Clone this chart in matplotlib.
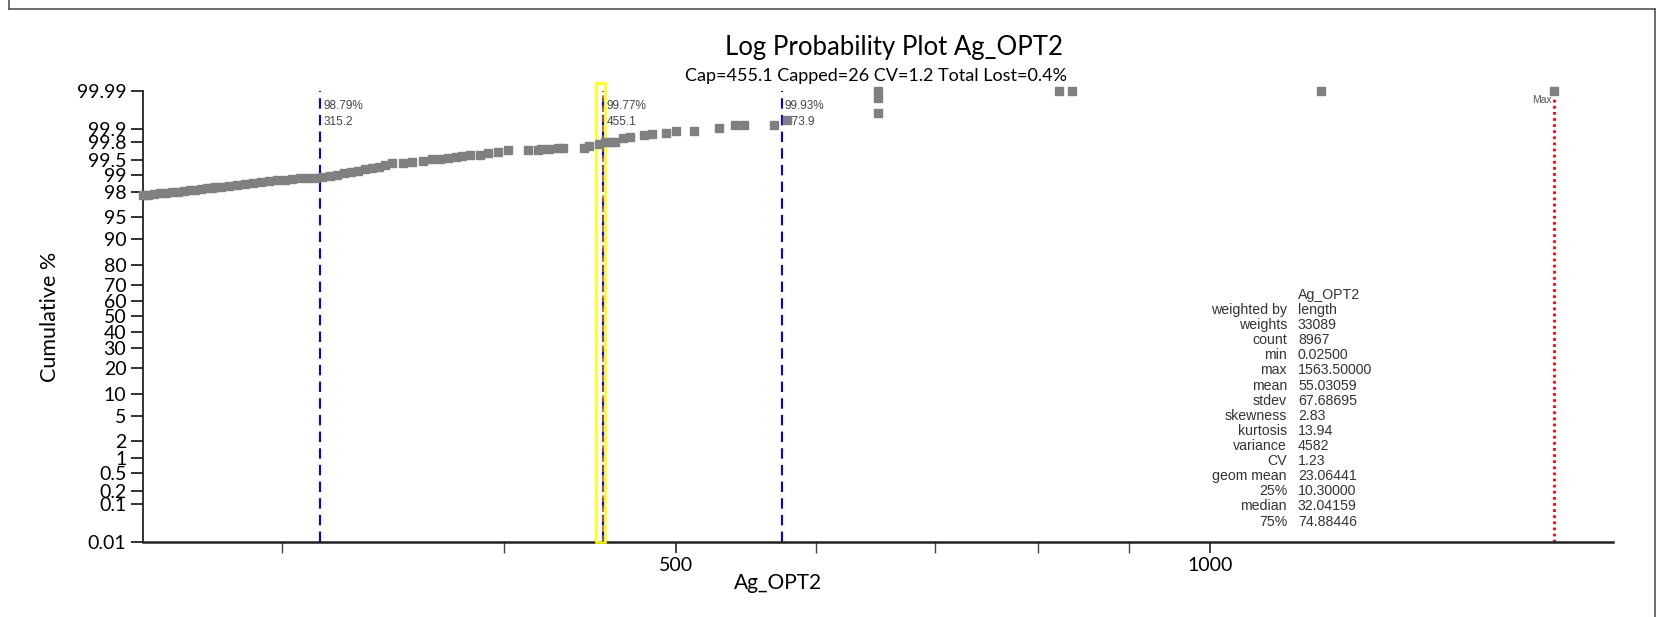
import statistics
import numpy as np
import matplotlib
matplotlib.use('Agg')
import matplotlib.pyplot as plt
from matplotlib.ticker import FixedLocator, FixedFormatter, NullFormatter, NullLocator
from matplotlib.lines import Line2D
from matplotlib.patches import Rectangle
import matplotlib.transforms as mtransforms

# sample values (Ag_OPT2) and cumulative %
ag_values = [250.5, 252, 254, 256, 258, 260, 262, 264, 266, 268, 270, 272, 274, 275,
             277, 280, 283, 286, 289, 292, 295, 298, 301, 304, 307, 310,
             313, 316, 319, 322, 325, 328, 331, 334, 337, 340, 343, 346,
             351, 355, 360, 364.5, 368, 372, 376, 379, 383, 388, 392, 397, 402,
             413, 418, 420, 424, 429, 432, 444, 447, 452.6, 456, 460, 462, 467, 471,
             480, 485, 494, 500, 512, 529, 540, 546, 568, 578,
             650, 650, 650, 822, 836, 1155, 1563.5]
cum_pct = [97.72, 97.77, 97.83, 97.88, 97.93, 97.98, 98.03, 98.08, 98.13, 98.18, 98.22, 98.27, 98.32, 98.36,
           98.39, 98.45, 98.50, 98.56, 98.61, 98.66, 98.71, 98.76, 98.80, 98.83, 98.86, 98.88,
           98.89, 98.93, 98.98, 99.04, 99.09, 99.14, 99.19, 99.24, 99.29, 99.33, 99.37, 99.42,
           99.44, 99.45, 99.49, 99.52, 99.54, 99.56, 99.58, 99.60, 99.62, 99.62, 99.65, 99.67, 99.70,
           99.70, 99.70, 99.715, 99.715, 99.73, 99.73, 99.73, 99.755, 99.78, 99.80, 99.80, 99.80, 99.84, 99.85,
           99.86, 99.87, 99.877, 99.886, 99.89, 99.906, 99.92, 99.92, 99.92, 99.94,
           99.961, 99.984, 99.99, 99.99, 99.99, 99.99, 99.99]

# reference lines: (value, percent label)
quant_lines = [(315.2, '98.79%'), (455.1, '99.77%'), (573.9, '99.93%')]
cap_value = 455.1
max_value = 1563.5

y_ticks = [0.01, 0.1, 0.2, 0.5, 1, 2, 5, 10, 20, 30, 40, 50, 60, 70, 80, 90,
           95, 98, 99, 99.5, 99.8, 99.9, 99.99]
y_tick_labels = ['0.01', '0.1', '0.2', '0.5', '1', '2', '5', '10', '20', '30', '40', '50',
                 '60', '70', '80', '90', '95', '98', '99', '99.5', '99.8', '99.9', '99.99']

stat_names = ['', 'weighted by', 'weights', 'count', 'min', 'max', 'mean', 'stdev',
              'skewness', 'kurtosis', 'variance', 'CV', 'geom mean', '25%', 'median', '75%']
stat_values = ['Ag_OPT2', 'length', '33089', '8967', '0.02500', '1563.50000', '55.03059',
               '67.68695', '2.83', '13.94', '4582', '1.23', '23.06441', '10.30000',
               '32.04159', '74.88446']

nd = statistics.NormalDist()
_ppf = np.vectorize(nd.inv_cdf, otypes=[float])
_cdf = np.vectorize(nd.cdf, otypes=[float])


def prob_fwd(p):
    p = np.clip(np.asarray(p, dtype=float) / 100.0, 1e-9, 1 - 1e-9)
    return _ppf(p)


def prob_inv(z):
    return _cdf(np.asarray(z, dtype=float)) * 100.0


W, H = 1659, 617
fig = plt.figure(figsize=(W / 100, H / 100), dpi=100)
ax = fig.add_axes([143 / W, 1 - 542 / H, (1613 - 143) / W, (542 - 91) / H])

ax.set_xscale('log')
ax.set_yscale('function', functions=(prob_fwd, prob_inv))
ax.set_xlim(250.4, 1688)
ax.set_ylim(0.01, 99.99)

tick_font = 'Lato'
ax.yaxis.set_major_locator(FixedLocator(y_ticks))
ax.yaxis.set_major_formatter(FixedFormatter(y_tick_labels))
ax.yaxis.set_minor_locator(NullLocator())
ax.xaxis.set_major_locator(FixedLocator([500, 1000]))
ax.xaxis.set_major_formatter(FixedFormatter(['500', '1000']))
ax.xaxis.set_minor_locator(FixedLocator([300, 400, 600, 700, 800, 900]))
ax.xaxis.set_minor_formatter(NullFormatter())

ax.tick_params(axis='y', direction='out', length=9, width=1.3, color='#222222',
               labelsize=14, pad=3)
ax.tick_params(axis='x', which='major', direction='out', length=8, width=1.2,
               color='#222222', labelsize=14, pad=3)
ax.tick_params(axis='x', which='minor', direction='out', length=8, width=1.0,
               color='#444444')
for lab in ax.get_xticklabels() + ax.get_yticklabels():
    lab.set_family(tick_font)
for t, v in zip(ax.yaxis.get_major_ticks(), y_ticks):
    if v in (70, 0.2):
        t.tick1line.set_color('#aaaaaa')

for side in ('top', 'right'):
    ax.spines[side].set_visible(False)
ax.spines['left'].set_linewidth(1.3)
ax.spines['bottom'].set_linewidth(1.8)
ax.spines['left'].set_color('#222222')
ax.spines['bottom'].set_color('#222222')

# quantile lines
for val, pct in quant_lines:
    ax.axvline(val, color='#0000ff', lw=1.5, ls=(0, (5, 3)), zorder=2)
    ax.text(val * 1.004, 99.982, pct + '\n' + ('%g' % val), fontsize=8.5, color='#444444',
            family='Liberation Sans', va='top', ha='left', linespacing=1.4, zorder=4)

# cap highlight
blend = mtransforms.blended_transform_factory(ax.transData, ax.transAxes)
ax.add_patch(Rectangle((450.6, 0), 455.9 - 450.6, 1.018, transform=blend, fill=False,
                       edgecolor='#ffff00', lw=1.8, clip_on=False, zorder=3))
ax.axvline(cap_value, color='#b5564f', lw=1.2, ls=(0, (4, 2)), zorder=3)

# max line
ax.plot([max_value, max_value], [0.01, 99.985], color='#ff0000', lw=2,
        ls=(0, (1, 1.2)), zorder=2)
ax.text(max_value * 0.997, 99.987, 'Max', fontsize=7.5, color='#555555',
        family='Liberation Sans', ha='right', va='top')

ax.plot(ag_values, cum_pct, ls='none', marker='s', markersize=5.5, color='#808080',
        mec='#808080', clip_on=False, zorder=5)

ax.set_xlabel('Ag_OPT2', fontsize=15, family=tick_font, va='center')
ax.xaxis.set_label_coords((778 - 143) / 1470, (542 - 583) / 451)
ax.set_ylabel('Cumulative %', fontsize=15.5, family=tick_font, va='center')
ax.yaxis.set_label_coords((50 - 143) / 1470, (542 - 317) / 451)

fig.text(894 / W, 1 - 47 / H, 'Log Probability Plot Ag_OPT2', fontsize=18.5,
         family=tick_font, ha='center', va='center')
fig.text(876 / W, 1 - 76 / H, 'Cap=455.1 Capped=26 CV=1.2 Total Lost=0.4%', fontsize=13,
         family=tick_font, ha='center', va='center')

# statistics block
for i, (name, val) in enumerate(zip(stat_names, stat_values)):
    yy = 1 - (295 + i * 15.1) / H
    fig.text(1287 / W, yy, name, fontsize=10.2, family='Liberation Sans', ha='right',
             va='center', color='#333333')
    fig.text(1298 / W, yy, val, fontsize=10.2, family='Liberation Sans', ha='left',
             va='center', color='#333333')

# outer frame
for xy in (([8.5, 8.5], [0, 8.5]), ([8.5, 1654.5], [8.5, 8.5]), ([1654.5, 1654.5], [8.5, 617])):
    fig.add_artist(Line2D([x / W for x in xy[0]], [1 - y / H for y in xy[1]],
                          color='#555555', lw=1.2))

fig.savefig('out.png', dpi=100)
